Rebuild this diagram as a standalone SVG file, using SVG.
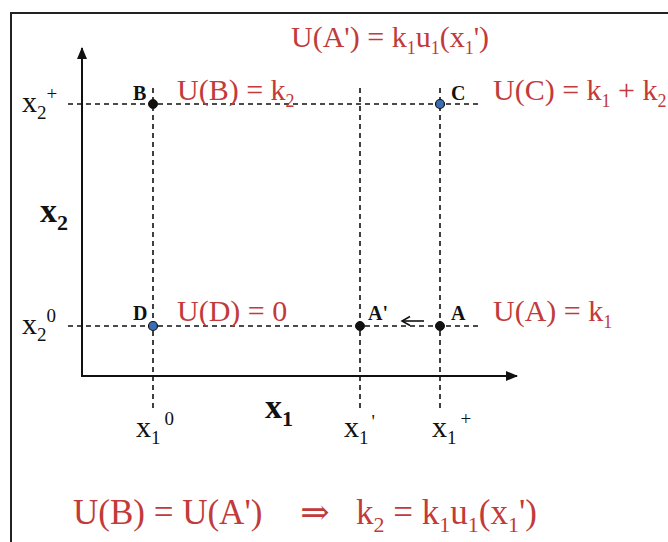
<svg xmlns="http://www.w3.org/2000/svg" width="668" height="542" viewBox="0 0 668 542">
<style>
.frame{fill:none;stroke:#222;stroke-width:2}
.axis{fill:none;stroke:#111;stroke-width:2}
.dash{fill:none;stroke:#111;stroke-width:1.6;stroke-dasharray:5 4}
.red{fill:#c23a3a}
.blk{fill:#111}
.bold{font-weight:bold}
.dot{fill:#111;stroke:#111;stroke-width:1}
.bdot{fill:#3c6cb4;stroke:#111;stroke-width:1.2}
</style>
<defs>
<marker id="ah" markerWidth="12" markerHeight="10" refX="11" refY="5" orient="auto" markerUnits="userSpaceOnUse">
<path d="M0,0 L12,5 L0,10 Z" fill="#111"/>
</marker>
<marker id="oh" markerWidth="12" markerHeight="12" refX="9" refY="6" orient="auto" markerUnits="userSpaceOnUse">
<path d="M1,1.5 L9,6 L1,10.5" fill="none" stroke="#111" stroke-width="1.5"/>
</marker>
</defs>
<rect width="668" height="542" fill="#fff"/>
<path class="frame" d="M11,542 L11,13 L668,13"/>

<g id="connectors">
<line class="axis" x1="82" y1="376" x2="82" y2="48" marker-end="url(#ah)"/>
<line class="axis" x1="81" y1="376" x2="517" y2="376" marker-end="url(#ah)"/>
<line class="dash" x1="68" y1="104" x2="482" y2="104"/>
<line class="dash" x1="68" y1="326" x2="482" y2="326"/>
<line class="dash" x1="153" y1="88" x2="153" y2="410"/>
<line class="dash" x1="360" y1="88" x2="360" y2="410"/>
<line class="dash" x1="440" y1="88" x2="440" y2="410"/>
<line x1="424" y1="321" x2="402" y2="321" stroke="#111" stroke-width="1.6" marker-end="url(#oh)"/>
</g>

<g font-family="'Liberation Serif', 'Times New Roman', 'DejaVu Serif', serif">
<g id="node-B"><circle class="dot" cx="153" cy="104" r="4.5"/><text class="blk bold" x="133" y="100" font-size="20">B</text></g>
<g id="node-C"><circle class="bdot" cx="440" cy="104" r="4.5"/><text class="blk bold" x="451" y="100" font-size="20">C</text></g>
<g id="node-D"><circle class="bdot" cx="153" cy="326" r="4.5"/><text class="blk bold" x="133" y="320" font-size="20">D</text></g>
<g id="node-Ap"><circle class="dot" cx="360" cy="326" r="4.5"/><text class="blk bold" x="368" y="320" font-size="20">A'</text></g>
<g id="node-A"><circle class="dot" cx="440" cy="326" r="4.5"/><text class="blk bold" x="451" y="320" font-size="20">A</text></g>

<g id="labels">
<text class="red" x="291" y="47" font-size="30">U(A') = k<tspan font-size="18" dy="7">1</tspan><tspan dy="-7">u</tspan><tspan font-size="18" dy="7">1</tspan><tspan dy="-7">(x</tspan><tspan font-size="18" dy="7">1</tspan><tspan dy="-7">')</tspan></text>
<text class="red" x="177" y="100" font-size="30">U(B) = k<tspan font-size="18" dy="7">2</tspan></text>
<text class="red" x="493" y="100" font-size="30">U(C) = k<tspan font-size="18" dy="7">1</tspan><tspan dy="-7"> + k</tspan><tspan font-size="18" dy="7">2</tspan></text>
<text class="red" x="177" y="321" font-size="30">U(D) = 0</text>
<text class="red" x="493" y="321" font-size="30">U(A) = k<tspan font-size="18" dy="7">1</tspan></text>

<text class="blk" x="22" y="112" font-size="30">x<tspan font-size="19" dy="7">2</tspan><tspan font-size="19" dy="-19">+</tspan></text>
<text class="blk" x="22" y="334" font-size="30">x<tspan font-size="19" dy="7">2</tspan><tspan font-size="19" dy="-19">0</tspan></text>
<text class="blk bold" x="40" y="222" font-size="34">x<tspan font-size="22" dy="8">2</tspan></text>
<text class="blk bold" x="265" y="418" font-size="34">x<tspan font-size="22" dy="8">1</tspan></text>
<text class="blk" x="136" y="437" font-size="30">x<tspan font-size="19" dy="7">1</tspan><tspan font-size="19" dy="-19" dx="4">0</tspan></text>
<text class="blk" x="344" y="437" font-size="30">x<tspan font-size="19" dy="7">1</tspan><tspan font-size="19" dy="-16" dx="3">'</tspan></text>
<text class="blk" x="432" y="437" font-size="30">x<tspan font-size="19" dy="7">1</tspan><tspan font-size="19" dy="-19" dx="4">+</tspan></text>

<text class="red" x="73" y="524" font-size="35">U(B) = U(A')</text>
<text class="red" x="315" y="524" font-size="35" text-anchor="middle">⇒</text>
<text class="red" x="356" y="524" font-size="35">k<tspan font-size="22" dy="8">2</tspan><tspan dy="-8"> = k</tspan><tspan font-size="22" dy="8">1</tspan><tspan dy="-8">u</tspan><tspan font-size="22" dy="8">1</tspan><tspan dy="-8">(x</tspan><tspan font-size="22" dy="8">1</tspan><tspan dy="-8">')</tspan></text>
</g>
</g>
</svg>
